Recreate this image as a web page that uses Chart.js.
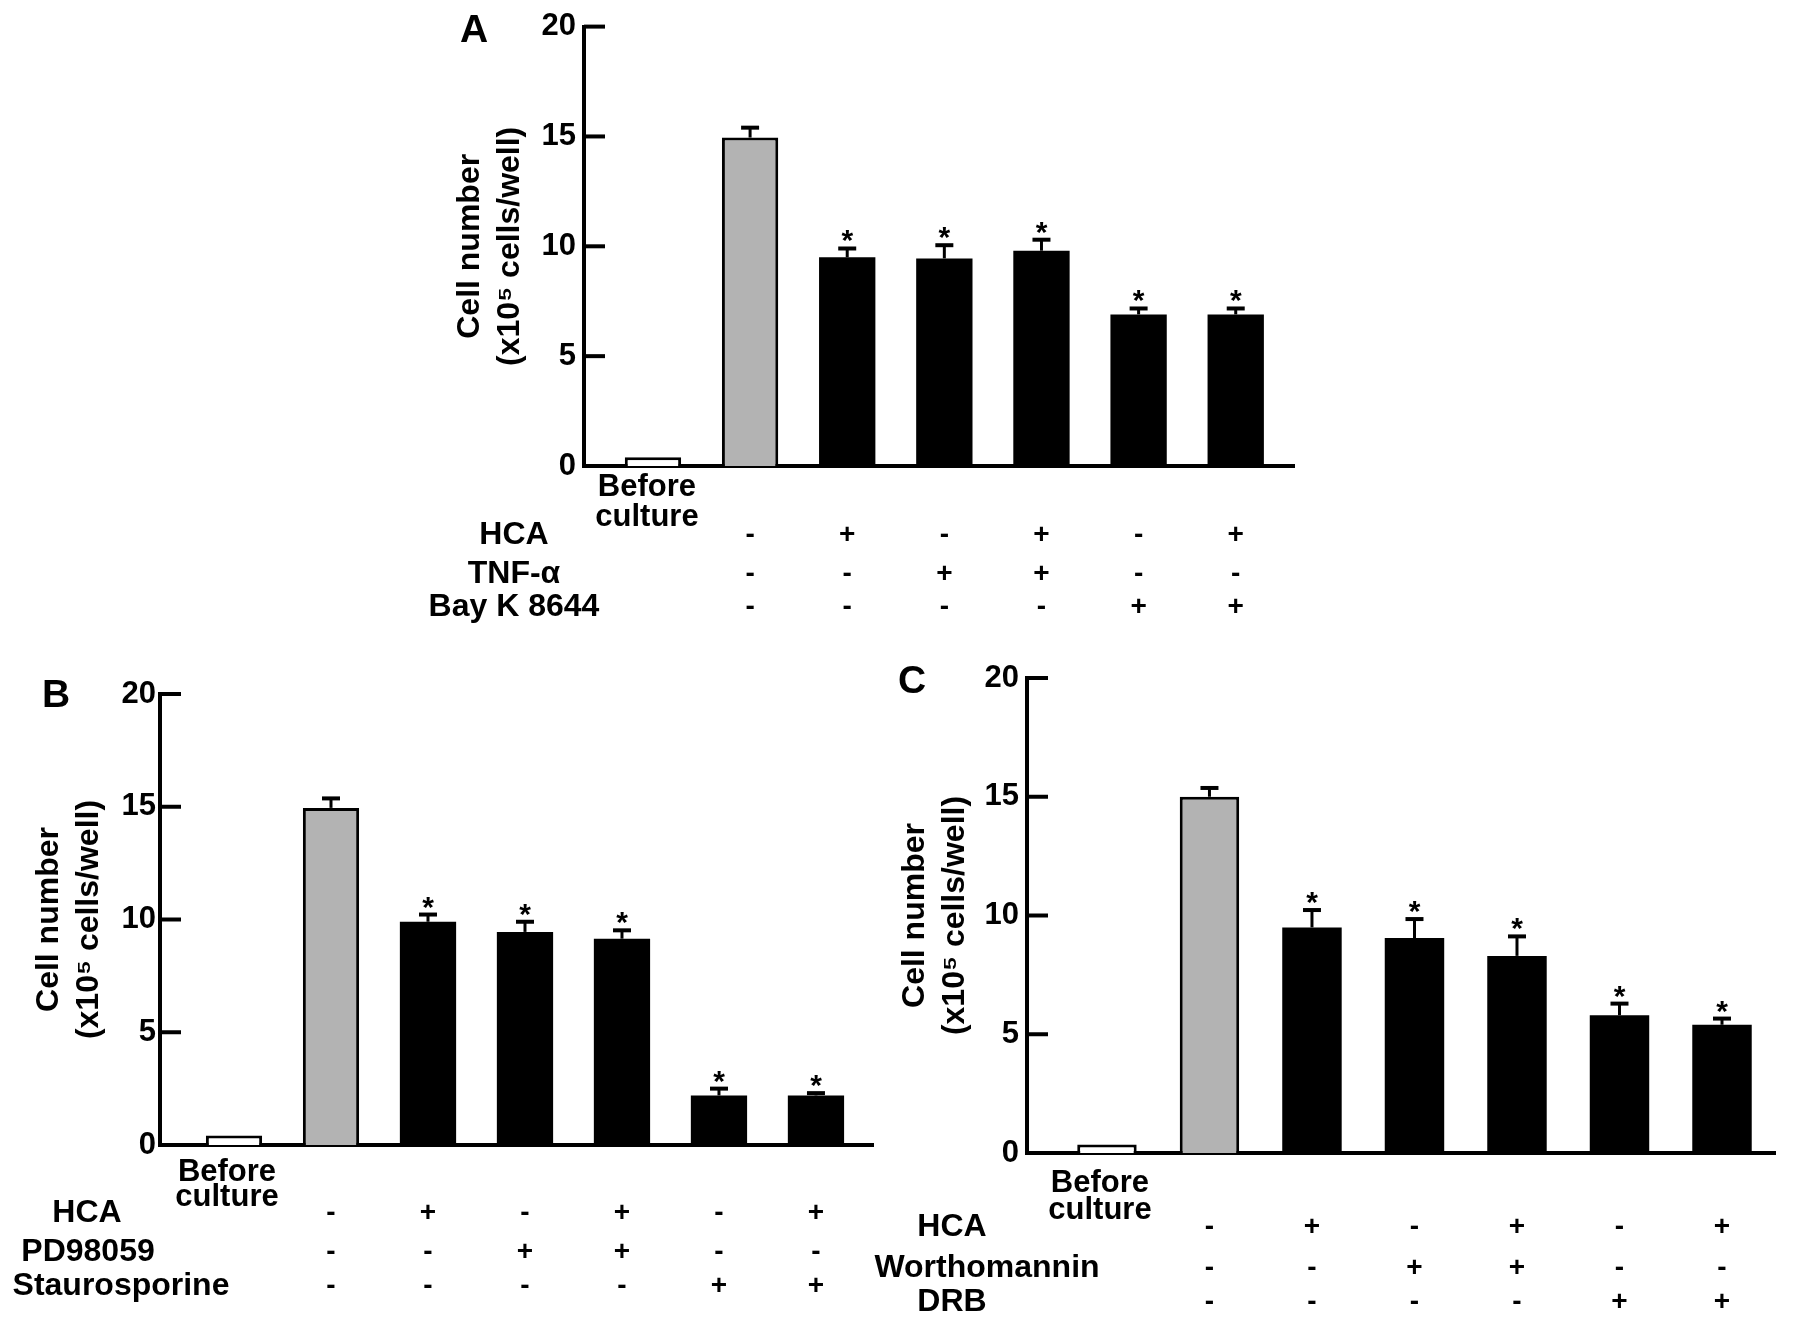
<!DOCTYPE html>
<html>
<head>
<meta charset="utf-8">
<script src="https://cdn.jsdelivr.net/npm/chart.js@4.4.1/dist/chart.umd.min.js"></script>
<style>
  html, body { margin: 0; padding: 0; background: #fff; }
  body { width: 1795px; height: 1325px; position: relative; overflow: hidden; }
  canvas { position: absolute; }
</style>
</head>
<body>
<canvas id="chartA" width="910" height="640" style="left:400px;top:0px"></canvas>
<canvas id="chartB" width="885" height="665" style="left:0px;top:660px"></canvas>
<canvas id="chartC" width="935" height="675" style="left:860px;top:650px"></canvas>
<script>
const FONT = "'Liberation Sans', Arial, Helvetica, sans-serif";

// shared
const tickLabels = [['Before', 'culture'], '', '', '', '', '', ''];
const yTitle = ['Cell number', '(x10\u2075 cells/well)'];
const hcaFlags = ['-', '+', '-', '+', '-', '+'];
const secondFlags = ['-', '-', '+', '+', '-', '-'];
const thirdFlags = ['-', '-', '-', '-', '+', '+'];
const stars = [false, false, true, true, true, true, true];

// panel A
const rowsA = ['HCA', 'TNF-\u03b1', 'Bay K 8644'];
const valuesA = [0.4, 14.95, 9.5, 9.45, 9.8, 6.9, 6.9];
const errorsA = [0, 0.45, 0.4, 0.6, 0.5, 0.27, 0.27];

// panel B
const rowsB = ['HCA', 'PD98059', 'Staurosporine'];
const valuesB = [0.42, 14.95, 9.9, 9.45, 9.15, 2.2, 2.2];
const errorsB = [0, 0.42, 0.32, 0.45, 0.37, 0.3, 0.1];

// panel C
const rowsC = ['HCA', 'Worthomannin', 'DRB'];
const valuesC = [0.36, 15.0, 9.5, 9.05, 8.3, 5.8, 5.4];
const errorsC = [0, 0.37, 0.73, 0.8, 0.82, 0.49, 0.26];

Chart.defaults.font.family = FONT;
Chart.defaults.color = '#000';

// draws ticks inside, error bars, stars, panel letter and the +/- table
function decor(p) {
  return {
    id: 'decor',
    afterDraw(chart) {
      const ctx = chart.ctx;
      const xs = chart.scales.x, ys = chart.scales.y;
      const area = chart.chartArea;
      const meta = chart.getDatasetMeta(0);
      ctx.save();
      ctx.fillStyle = '#000';
      ctx.strokeStyle = '#000';

      ctx.lineWidth = 4;
      ys.ticks.forEach(t => {
        if (t.value === 0) return;
        const py = ys.getPixelForValue(t.value);
        ctx.beginPath();
        ctx.moveTo(area.left, py);
        ctx.lineTo(area.left + 21, py);
        ctx.stroke();
      });

      meta.data.forEach((bar, i) => {
        const err = p.errors[i];
        if (!err) return;
        const top = ys.getPixelForValue(p.values[i] + err);
        ctx.lineWidth = 3;
        ctx.beginPath();
        ctx.moveTo(bar.x, bar.y);
        ctx.lineTo(bar.x, top);
        ctx.stroke();
        ctx.lineWidth = 4;
        ctx.beginPath();
        ctx.moveTo(bar.x - 9, top);
        ctx.lineTo(bar.x + 9, top);
        ctx.stroke();
        if (stars[i]) {
          ctx.font = 'bold 30px ' + FONT;
          ctx.textAlign = 'center';
          ctx.textBaseline = 'alphabetic';
          ctx.fillText('*', bar.x, top + 2);
        }
      });

      ctx.textAlign = 'center';
      ctx.textBaseline = 'middle';
      ctx.font = 'bold 39px ' + FONT;
      ctx.fillText(p.letter, p.letterX, p.letterY);

      const flags = [hcaFlags, secondFlags, thirdFlags];
      p.rows.forEach((name, r) => {
        ctx.font = 'bold 32px ' + FONT;
        ctx.fillText(name, p.rowX[r], p.rowY[r]);
        ctx.font = 'bold 28px ' + FONT;
        flags[r].forEach((f, j) => {
          ctx.fillText(f, xs.getPixelForValue(j + 1), p.rowY[r]);
        });
      });
      ctx.restore();
    }
  };
}

function makeChart(id, p) {
  const fills = p.values.map((v, i) => i === 0 ? '#ffffff' : (i === 1 ? '#b3b3b3' : '#000000'));
  return new Chart(document.getElementById(id), {
    type: 'bar',
    data: {
      datasets: [{
        data: p.values.map((v, i) => ({ x: i, y: v })),
        backgroundColor: fills,
        borderColor: '#000',
        borderWidth: p.values.map((v, i) => i < 2 ? 3 : 0),
        barPercentage: 0.58,
        categoryPercentage: 1
      }]
    },
    options: {
      responsive: false,
      animation: false,
      devicePixelRatio: 1,
      layout: { padding: p.padding },
      plugins: { legend: { display: false }, tooltip: { enabled: false } },
      scales: {
        x: {
          type: 'linear',
          offset: false,
          min: p.xMin,
          max: p.xMax,
          afterBuildTicks: s => { s.ticks = tickLabels.map((t, i) => ({ value: i })); },
          afterFit: s => { s.height = p.xHeight; },
          grid: { display: false, drawTicks: false, offset: false },
          border: { color: '#000', width: 4 },
          ticks: {
            autoSkip: false, maxRotation: 0, minRotation: 0,
            padding: p.xPad, labelOffset: p.labelOffset,
            font: { size: 31, weight: 'bold', lineHeight: p.xLine },
            callback: (v, i) => tickLabels[i]
          }
        },
        y: {
          min: 0,
          max: 20,
          afterFit: s => { s.width = p.yWidth; },
          grid: { display: false, drawTicks: false },
          border: { color: '#000', width: 4 },
          ticks: { stepSize: 5, padding: p.yPad, font: { size: 31, weight: 'bold' } },
          title: {
            display: true, text: yTitle, padding: 0,
            font: { size: 32, weight: 'bold', lineHeight: 1.25 }
          }
        }
      }
    },
    plugins: [decor(p)]
  });
}

makeChart('chartA', {
  values: valuesA, errors: errorsA, rows: rowsA, letter: 'A',
  padding: { left: 50, top: 20, right: 16, bottom: 0 },
  yWidth: 134, xHeight: 174, xMin: -0.71, xMax: 6.6,
  yPad: 8, xPad: 6, xLine: 0.97, labelOffset: -6,
  letterX: 74, letterY: 31,
  rowX: [114, 114, 114], rowY: [535, 574, 607]
});

makeChart('chartB', {
  values: valuesB, errors: errorsB, rows: rowsB, letter: 'B',
  padding: { left: 29, top: 34, right: 12, bottom: 0 },
  yWidth: 131, xHeight: 180, xMin: -0.763, xMax: 6.588,
  yPad: 4, xPad: 15, xLine: 0.81, labelOffset: -7,
  letterX: 56, letterY: 36,
  rowX: [87, 88, 121], rowY: [553, 592, 626]
});

makeChart('chartC', {
  values: valuesC, errors: errorsC, rows: rowsC, letter: 'C',
  padding: { left: 35, top: 28, right: 20, bottom: 0 },
  yWidth: 132, xHeight: 172, xMin: -0.78, xMax: 6.517,
  yPad: 8, xPad: 17, xLine: 0.87, labelOffset: -7,
  letterX: 52, letterY: 32,
  rowX: [92, 127, 92], rowY: [577, 618, 652]
});
</script>
</body>
</html>
